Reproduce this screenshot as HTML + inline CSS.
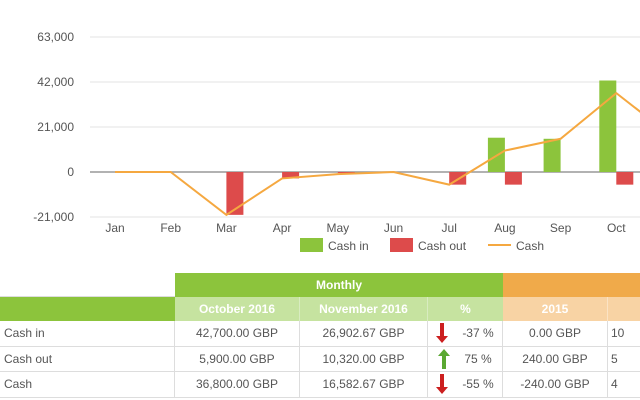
<!DOCTYPE html>
<html><head><meta charset="utf-8">
<style>
body{margin:0;width:640px;height:400px;overflow:hidden;background:#fff;font-family:"Liberation Sans",sans-serif;position:relative}
.c{position:absolute;box-sizing:border-box;font-size:12px;display:flex;align-items:center;justify-content:center;color:#555}
.h1{background:#8cc43c;color:#fff;font-weight:bold}
.h1o{background:#f0aa4a}
.h2g{background:#c6e3a0;color:#fff;font-weight:bold}
.h2o{background:#f8d3a4;color:#fff;font-weight:bold}
.r{border-right:1px solid #ddd;border-bottom:1px solid #ddd;color:#555}
.l{justify-content:flex-start;padding-left:4px}
</style></head><body>
<svg id="chart" width="640" height="265" style="position:absolute;left:0;top:0"></svg>

<div class="c" style="left:0;top:273px;width:175px;height:24px;border-bottom:1px solid #ddd"></div>
<div class="c h1" style="left:175px;top:273px;width:328px;height:24px">Monthly</div>
<div class="c h1 h1o" style="left:503px;top:273px;width:137px;height:24px"></div>
<div class="c h1" style="left:0;top:297px;width:175px;height:24px"></div>
<div class="c h2g" style="left:175px;top:297px;width:125px;height:24px;border-right:1px solid #d8ecc0">October 2016</div>
<div class="c h2g" style="left:300px;top:297px;width:128px;height:24px;border-right:1px solid #d8ecc0">November 2016</div>
<div class="c h2g" style="left:428px;top:297px;width:75px;height:24px">%</div>
<div class="c h2o" style="left:503px;top:297px;width:105px;height:24px;border-right:1px solid #fbe3c4">2015</div>
<div class="c h2o" style="left:608px;top:297px;width:32px;height:24px"></div>

<div id="rows"></div>

<script>
const months=["Jan","Feb","Mar","Apr","May","Jun","Jul","Aug","Sep","Oct","Nov"];
const cashIn=[0,0,0,0,0,0,0,16000,15500,42700,26903];
const cashOut=[0,0,-20000,-3000,-500,0,-5900,-5900,0,-5900,-10320];
const cash=[0,0,-20000,-3000,-1000,0,-5900,10000,15500,36800,16583];
const yTicks=[63000,42000,21000,0,-21000];
const yTickLabels=["63,000","42,000","21,000","0","-21,000"];

const NS="http://www.w3.org/2000/svg";
const svg=document.getElementById('chart');
const y=v=>172-v*45/21000;
const x=i=>115+i*55.7;
function mk(t,a){const e=document.createElementNS(NS,t);for(const k in a)e.setAttribute(k,a[k]);svg.appendChild(e);return e;}
yTicks.forEach((t,i)=>{
 const g=mk('line',{x1:90,x2:640,y1:y(t),y2:y(t),stroke:t===0?'#999':'#e3e3e3','stroke-width':t===0?1.5:1});
 
 
 const tx=mk('text',{x:74,y:y(t)+4,'text-anchor':'end','font-size':12,fill:'#555'});
 tx.textContent=yTickLabels[i];
 
 
});
months.forEach((m,i)=>{
 if(cashIn[i]){const r=mk('rect',{x:x(i)-17,y:y(cashIn[i]),width:17,height:y(0)-y(cashIn[i]),fill:'#8cc43c'});
 
 }
 if(cashOut[i]){const r=mk('rect',{x:x(i),y:y(0),width:17,height:y(cashOut[i])-y(0),fill:'#dd4b4b'});
 
 }
 const t=mk('text',{x:x(i),y:232,'text-anchor':'middle','font-size':12,fill:'#555'});
 t.textContent=m;
 
 
});
const pl=mk('polyline',{points:cash.map((v,i)=>x(i)+','+y(v)).join(' '),fill:'none',stroke:'#f5a840','stroke-width':2});


// legend
const lg=[["Cash in","#8cc43c","r",300],["Cash out","#dd4b4b","r",390],["Cash","#f5a840","l",488]];
lg.forEach(l=>{
 if(l[2]==="r"){const r=mk('rect',{x:l[3],y:238,width:23,height:14,fill:l[1]});}
 else{const r=mk('line',{x1:l[3],x2:l[3]+23,y1:245,y2:245,stroke:l[1],'stroke-width':2});}
 const t=mk('text',{x:l[3]+28,y:250,'font-size':12,fill:'#555'});
 t.textContent=l[0];
 
 
});

const rowLabels=["Cash in","Cash out","Cash"];
const oct=["42,700.00 GBP","5,900.00 GBP","36,800.00 GBP"];
const nov=["26,902.67 GBP","10,320.00 GBP","16,582.67 GBP"];
const pct=["-37 %","75 %","-55 %"];
const up=[false,true,false];
const y2015=["0.00 GBP","240.00 GBP","-240.00 GBP"];
const y2016=["10","5","4"];
const cols=[[0,175],[175,125],[300,128],[428,75],[503,105],[608,40]];
const rows=document.getElementById('rows');
const names=['row-label','october-value','november-value','percent-change','year-2015-value','year-2016-value'];
rowLabels.forEach((lab,ri)=>{
 const top=321+ri*25.5;
 const vals=[lab,oct[ri],nov[ri],pct[ri],y2015[ri],y2016[ri]];
 cols.forEach((c,ci)=>{
  const d=document.createElement('div');
  d.className='c r'+(ci===0?' l':'');
  d.style.cssText=`left:${c[0]}px;top:${top}px;width:${c[1]}px;height:25.5px;`+(ci===5?'justify-content:flex-start;padding-left:3px;':'');
  if(ci===3){
   const col=up[ri]?'#5aa832':'#cc1f1f';
   const arrow=up[ri]?'<path d="M6 0 L12 7 L8 7 L8 20 L4 20 L4 7 L0 7 Z" fill="'+col+'"/>':'<path d="M4 0 L8 0 L8 13 L12 13 L6 20 L0 13 L4 13 Z" fill="'+col+'"/>';
   d.innerHTML='<svg width="12" height="20" style="margin-right:14px">'+arrow+'</svg><span>'+vals[ci]+'</span>';
  } else d.textContent=vals[ci];
  
  
  rows.appendChild(d);
 });
});
</script>
</body></html>
